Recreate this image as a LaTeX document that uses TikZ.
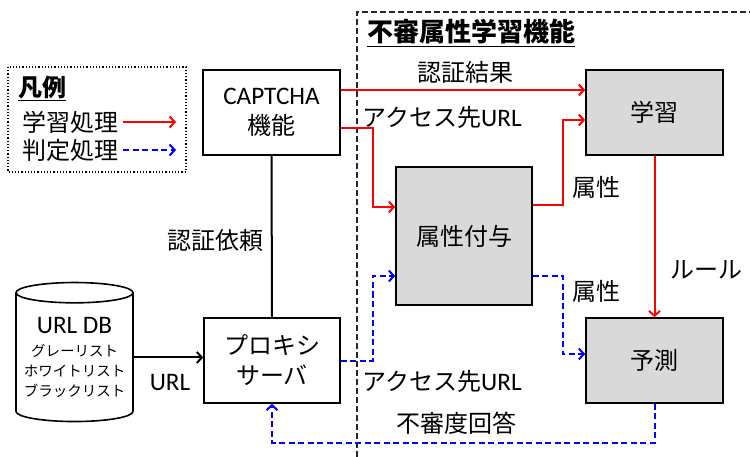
\documentclass[tikz,border=0pt]{standalone}
\usepackage{fontspec}
\setmainfont{Carlito}[Scale=1.05]
\newfontfamily\jp{Noto Sans CJK JP}
\usetikzlibrary{arrows.meta,shapes.geometric}

\begin{document}
\begin{tikzpicture}[
                    x=1pt, y=-1pt,
                    line width=2pt,
                    every node/.style={font=\fontsize{24}{30}\selectfont},
                    box/.style={draw, line width=1.6pt, minimum width=137pt, minimum height=85pt,
                                align=center, inner sep=0pt},
                    grbox/.style={box, fill=gray!30},
                    lbl/.style={font=\fontsize{24}{30}\selectfont\jp, inner sep=0pt},
                    learn/.style={draw=red, line width=2pt, -{Straight Barb[length=5pt,width=11pt]}},
                    judge/.style={draw=blue, line width=2pt, dash pattern=on 6pt off 3.5pt,
                                  -{Straight Barb[length=5pt,width=11pt]}},
                    plain/.style={draw=black, line width=2pt, -{Straight Barb[length=5pt,width=11pt]}}
                ]
                \useasboundingbox (0,0) rectangle (750,457);

                % frames
                \draw[line width=1.3pt, dash pattern=on 6pt off 3pt, black!85] (357,457) |- (750,12);
                \draw[line width=1.2pt, dotted] (8,67) rectangle (186,172);

                % legend
                \node[lbl, font=\fontsize{24}{30}\selectfont\jp\bfseries] (legend) at (42,88) {\underline{凡例}};
                \node[lbl] (lgL) at (71,122) {学習処理};
                \node[lbl] (lgJ) at (71,150) {判定処理};
                \coordinate (lgL1) at (123,122);
                \coordinate (lgL2) at (176,122);
                \coordinate (lgJ1) at (123,150);
                \coordinate (lgJ2) at (176,150);

                \node[lbl, font=\fontsize{26}{30}\selectfont\jp\bfseries] (title) at (471,33) {\underline{不審属性学習機能}};

                % boxes
                \node[box] (captcha) at (271.5,112.5) {CAPTCHA\\{\jp 機能}};
                \node[box, minimum width=136pt] (proxy) at (272,360.5) {{\jp プロキシ}\\{\jp サーバ}};
                \node[grbox] (learn) at (654.5,112.5) {{\jp 学習}};
                \node[grbox, minimum width=136pt, minimum height=138pt] (attr) at (464,236) {{\jp 属性付与}};
                \node[grbox] (pred) at (654.5,360.5) {{\jp 予測}};
                \node[cylinder, shape border rotate=90, draw, line width=1.6pt, aspect=0.2,
                      minimum width=117pt, minimum height=139pt, align=center, inner sep=0pt,
                      font=\fontsize{14.5}{20}\selectfont\jp] (db) at (74.5,357.5)
                      {{\fontsize{24}{30}\selectfont\rmfamily URL DB}\\[3pt]グレーリスト\\ホワイトリスト\\ブラックリスト};

                % labels
                \node[lbl] (lResult) at (465,72) {認証結果};
                \node[lbl] (lUrlA) at (442,117) {アクセス先\rmfamily URL};
                \node[lbl] (lAttrA) at (596,187) {属性};
                \node[lbl] (lRule) at (706,270) {ルール};
                \node[lbl] (lAttrB) at (596,291) {属性};
                \node[lbl] (lUrlB) at (442,381) {アクセス先\rmfamily URL};
                \node[lbl] (lAnswer) at (456,423) {不審度回答};
                \node[lbl] (lReq) at (215,240) {認証依頼};
                \node[inner sep=0pt] (lUrl) at (170,383) {URL};

                % connectors
                \path
                (lgL1) edge[learn] (lgL2)
                (lgJ1) edge[judge] (lgJ2)
                (db.east) edge[plain] (proxy.west |- db.east)
                (proxy.north) edge[draw=black, line width=2pt] (captcha.south)
                ([yshift=22.5pt]captcha.east) edge[learn] ([yshift=22.5pt]learn.west)
                (learn.south) edge[learn] (pred.north)
                ;
                \draw[learn] ([yshift=-15.5pt]captcha.east) -- ++(32,0) |- ([yshift=29pt]attr.west);
                \draw[learn] ([yshift=31pt]attr.east) -- ++(30,0) |- ([yshift=-7.5pt]learn.west);
                \draw[judge] (proxy.east) -- ++(32,0) |- ([yshift=-40pt]attr.west);
                \draw[judge] ([yshift=-40pt]attr.east) -- ++(30,0) |- ([yshift=6.5pt]pred.west);
                \draw[judge] (pred.south) -- ++(0,39) -| (proxy.south);
            \end{tikzpicture}
\end{document}
